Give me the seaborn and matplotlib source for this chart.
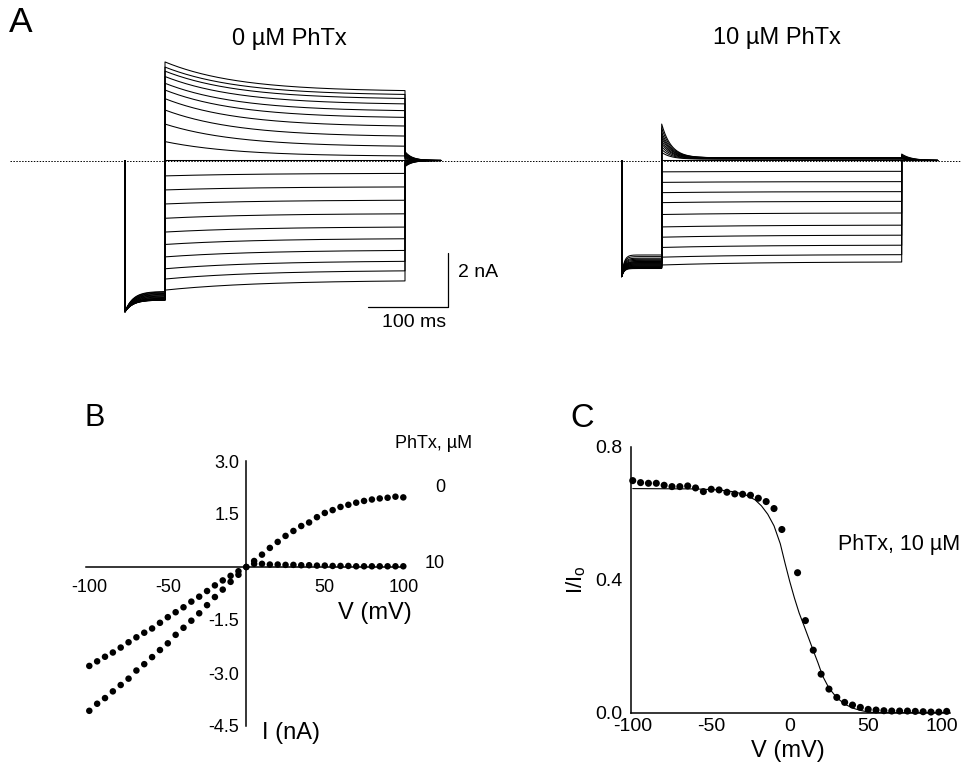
import numpy as np
import pandas as pd
import matplotlib
matplotlib.use("Agg")
import matplotlib.pyplot as plt
import matplotlib.transforms as mtransforms
import seaborn as sns

# ---------------- data ----------------
# Panel A: test-step voltages (mV) and current levels (nA)
step_mv = [-100, -90, -80, -70, -60, -50, -40, -30, -20, -10, 0,
           10, 20, 30, 40, 50, 60, 70, 80, 90, 100]
# 0 uM PhTx
ctl_steady = [-4.43, -4.06, -3.71, -3.31, -2.88, -2.45, -1.96, -1.46, -0.97, -0.47, 0.0,
              0.15, 0.50, 0.87, 1.24, 1.56, 1.81, 2.06, 2.26, 2.41, 2.55]
ctl_transient = [-0.37, -0.33, -0.30, -0.26, -0.23, -0.20, -0.18, -0.15, -0.12, -0.10, 0.0,
                 0.55, 0.85, 1.00, 1.05, 1.05, 1.05, 1.05, 1.05, 1.05, 1.10]
ctl_pre_end = [-4.85, -4.87, -4.90, -4.92, -4.95, -4.97, -5.00, -5.02, -5.05, -5.07, -5.10,
               -5.11, -5.12, -5.13, -5.14, -5.15, -5.15, -5.16, -5.16, -5.17, -5.17]
ctl_pre_peak = -5.6
ctl_tail = [-0.23, -0.21, -0.19, -0.17, -0.15, -0.12, -0.10, -0.07, -0.05, -0.02, 0.0,
            0.03, 0.07, 0.10, 0.14, 0.17, 0.20, 0.23, 0.27, 0.30, 0.33]
# 10 uM PhTx
phtx_steady = [-3.75, -3.48, -3.13, -2.76, -2.39, -1.94, -1.51, -1.15, -0.78, -0.40, 0.0,
               0.05, 0.06, 0.07, 0.08, 0.08, 0.09, 0.09, 0.10, 0.10, 0.10]
phtx_transient = [-0.12, -0.10, -0.09, -0.08, -0.07, -0.06, -0.05, -0.04, -0.03, -0.02, 0.0,
                  0.25, 0.35, 0.45, 0.55, 0.65, 0.75, 0.85, 0.95, 1.10, 1.25]
phtx_pre_end = [-3.95, -3.97, -4.00, -3.98, -3.96, -3.94, -3.92, -3.90, -3.88, -3.86, -3.84,
                -3.82, -3.80, -3.78, -3.76, -3.74, -3.70, -3.66, -3.62, -3.56, -3.50]
phtx_pre_peak = -4.3
phtx_tail = [0.0, 0.0, 0.0, 0.0, 0.0, 0.0, 0.0, 0.0, 0.0, 0.0, 0.0,
             0.05, 0.07, 0.09, 0.10, 0.12, 0.14, 0.16, 0.18, 0.21, 0.24]
# protocol timing (ms)
prepulse_start, test_start, test_end, tail_end = 0, 50, 350, 395

# Panel B: I-V relations
iv_mv = [-100, -95, -90, -85, -80, -75, -70, -65, -60, -55, -50, -45, -40, -35, -30, -25, -20,
         -15, -10, -5, 0, 5, 10, 15, 20, 25, 30, 35, 40, 45, 50, 55, 60, 65, 70, 75, 80,
         85, 90, 95, 100]
iv_0uM = [-4.07, -3.87, -3.71, -3.52, -3.34, -3.16, -2.93, -2.75, -2.55, -2.35, -2.16, -1.92,
          -1.72, -1.52, -1.31, -1.08, -0.85, -0.64, -0.42, -0.22, 0.0, 0.17, 0.35, 0.54, 0.71,
          0.88, 1.02, 1.16, 1.26, 1.41, 1.53, 1.61, 1.70, 1.76, 1.82, 1.87, 1.91, 1.94, 1.96,
          1.99, 1.97]
iv_10uM = [-2.80, -2.67, -2.54, -2.42, -2.28, -2.13, -1.99, -1.86, -1.74, -1.58, -1.42, -1.28,
           -1.14, -0.98, -0.84, -0.68, -0.52, -0.38, -0.25, -0.12, 0.0, 0.09, 0.09, 0.07, 0.07,
           0.06, 0.06, 0.05, 0.05, 0.04, 0.04, 0.03, 0.03, 0.03, 0.02, 0.02, 0.02, 0.02, 0.02,
           0.02, 0.02]

# Panel C: fractional current I/Io at 10 uM PhTx (0 mV omitted)
frac_mv = [-100, -95, -90, -85, -80, -75, -70, -65, -60, -55, -50, -45, -40, -35, -30, -25,
           -20, -15, -10, -5, 5, 10, 15, 20, 25, 30, 35, 40, 45, 50, 55, 60, 65, 70, 75, 80,
           85, 90, 95, 100]
frac_val = [0.698, 0.692, 0.690, 0.690, 0.684, 0.680, 0.680, 0.682, 0.676, 0.665, 0.672,
            0.670, 0.663, 0.658, 0.657, 0.654, 0.645, 0.635, 0.614, 0.551, 0.421, 0.277,
            0.188, 0.116, 0.071, 0.046, 0.031, 0.023, 0.016, 0.010, 0.008, 0.006, 0.005,
            0.005, 0.005, 0.004, 0.003, 0.002, 0.002, 0.004]
fit_mv = [-100, -60, -45, -35, -28, -22, -18, -14, -10, -6, -3, 0, 3, 6, 9, 12, 15, 18, 21,
          25, 30, 35, 40, 45, 50, 55, 100]
fit_val = [0.674, 0.673, 0.670, 0.664, 0.655, 0.640, 0.622, 0.597, 0.562, 0.508, 0.450,
           0.395, 0.345, 0.300, 0.263, 0.225, 0.187, 0.150, 0.110, 0.074, 0.045, 0.026,
           0.014, 0.007, 0.002, 0.0, 0.0]

# ---------------- style ----------------
sns.set_style("white")
plt.rcParams["font.family"] = ["Liberation Sans", "DejaVu Sans"]
plt.rcParams["axes.unicode_minus"] = False
plt.rcParams["mathtext.fontset"] = "custom"
plt.rcParams["mathtext.rm"] = "Liberation Sans"
plt.rcParams["mathtext.it"] = "Liberation Sans"
for key in ["text.color", "axes.labelcolor", "xtick.color", "ytick.color", "axes.edgecolor"]:
    plt.rcParams[key] = "black"

W, H = 961, 777
fig = plt.figure(figsize=(W / 100, H / 100), dpi=100)
fig.patch.set_facecolor("white")


def fx(px):
    return px / W


def fy(py):
    return 1 - py / H


def add_ax(x0, y0, x1, y1):
    return fig.add_axes([fx(x0), fy(y1), fx(x1) - fx(x0), (y1 - y0) / H])


def trace_frame(steady, transient, pre_end, pre_peak, tail, tau_pre, tau_pos, tau_neg, tau_tail):
    frames = []
    t_pre = np.linspace(prepulse_start, test_start, 60)
    t_test = np.linspace(test_start, test_end, 300)
    t_tail = np.linspace(test_end, tail_end, 60)
    for k in range(len(steady)):
        i_pre = pre_end[k] + (pre_peak - pre_end[k]) * np.exp(-(t_pre - prepulse_start) / tau_pre)
        tau = tau_pos if transient[k] > 0 else tau_neg
        i_test = steady[k] + transient[k] * np.exp(-(t_test - test_start) / tau)
        i_tail = tail[k] * np.exp(-(t_tail - test_end) / tau_tail)
        t = np.concatenate([[prepulse_start], t_pre, t_test, t_tail])
        i = np.concatenate([[0.0], i_pre, i_test, i_tail])
        frames.append(pd.DataFrame({"t": t, "I": i, "trace": k}))
    return pd.concat(frames, ignore_index=True)


ylo, yhi = (160.5 - 340) / 27, (160.5 - 50) / 27

# ---------------- Panel A ----------------
axL = add_ax(10, 50, 480, 340)
axR = add_ax(480, 50, 961, 340)
df_ctl = trace_frame(ctl_steady, ctl_transient, ctl_pre_end, ctl_pre_peak, ctl_tail,
                     10, 90, 120, 9)
df_ptx = trace_frame(phtx_steady, phtx_transient, phtx_pre_end, phtx_pre_peak, phtx_tail,
                     3, 12, 120, 12)
for ax, df, xl in [(axL, df_ctl, ((10 - 125) / 0.8, (480 - 125) / 0.8)),
                   (axR, df_ptx, ((480 - 621.7) / 0.8, (961 - 621.7) / 0.8))]:
    ax.axhline(0, color="k", lw=0.7, ls=(0, (1.5, 1.5)), zorder=1)
    sns.lineplot(data=df, x="t", y="I", units="trace", estimator=None, sort=False,
                 color="k", lw=0.75, ax=ax, legend=False, zorder=2)
    ax.set_xlim(*xl)
    ax.set_ylim(ylo, yhi)
    ax.axis("off")

# scale bar (100 ms, 2 nA)
sb_x1, sb_y0 = 403.4, -5.43
axL.plot([sb_x1 - 100, sb_x1, sb_x1], [sb_y0, sb_y0, sb_y0 + 2], color="k", lw=0.9,
         clip_on=False)

fig.text(fx(9), fy(32.3), "A", fontsize=25.5, ha="left", va="baseline")
fig.text(fx(289), fy(45), "0 µM PhTx", fontsize=17, ha="center", va="baseline")
fig.text(fx(777), fy(44), "10 µM PhTx", fontsize=17, ha="center", va="baseline")
fig.text(fx(458), fy(276.7), "2 nA", fontsize=14, ha="left", va="baseline")
fig.text(fx(414), fy(327.3), "100 ms", fontsize=14, ha="center", va="baseline")

# ---------------- Panel B ----------------
axB = add_ax(89.3 - 5 * 1.57, 461, 403.3 + 5 * 1.57, 726)
iv_df = pd.DataFrame({"V": iv_mv * 2, "I": iv_0uM + iv_10uM,
                      "PhTx": ["0"] * len(iv_mv) + ["10"] * len(iv_mv)})
sns.scatterplot(data=iv_df, x="V", y="I", hue="PhTx", palette=["k", "k"], s=22,
                edgecolor="none", legend=False, ax=axB, clip_on=False, zorder=3)
axB.set_xlim(-105, 105)
axB.set_ylim(-4.5, 3.0)
for s in ["top", "right"]:
    axB.spines[s].set_visible(False)
axB.spines["left"].set_position(("data", 0))
axB.spines["bottom"].set_position(("data", 0))
axB.spines["left"].set_bounds(-4.5, 3.0)
axB.spines["bottom"].set_bounds(-102, 100)
for s in ["left", "bottom"]:
    axB.spines[s].set_linewidth(1.1)
    axB.spines[s].set_color("k")
axB.set_xticks([-100, -50, 50, 100])
axB.set_xticklabels(["-100", "-50", "50", "100"])
axB.set_yticks([-4.5, -3.0, -1.5, 1.5, 3.0])
axB.set_yticklabels(["-4.5", "-3.0", "-1.5", "1.5", "3.0"])
axB.tick_params(direction="in", length=4, width=1.1, labelsize=13, colors="k")
axB.tick_params(axis="x", pad=9)
axB.tick_params(axis="y", pad=5)
axB.set_xlabel("")
axB.set_ylabel("")
axB.set_facecolor("none")

fig.text(fx(84.5), fy(425.7), "B", fontsize=22, ha="left", va="baseline")
fig.text(fx(395), fy(448.3), "PhTx, µM", fontsize=13, ha="left", va="baseline")
fig.text(fx(440), fy(491.7), "0", fontsize=13, ha="center", va="baseline")
fig.text(fx(435), fy(568.3), "10", fontsize=13, ha="center", va="baseline")
fig.text(fx(375.3), fy(619), "V (mV)", fontsize=17, ha="center", va="baseline")
fig.text(fx(261.7), fy(739.3), "I (nA)", fontsize=17, ha="left", va="baseline")

# ---------------- Panel C ----------------
axC = add_ax(630.7, 446.7, 950.3, 712.7)
sns.lineplot(x=fit_mv, y=fit_val, color="k", lw=0.8, ax=axC, zorder=2)
sns.scatterplot(x=frac_mv, y=frac_val, color="k", s=26, edgecolor="none", ax=axC,
                clip_on=False, zorder=3)
axC.set_xlim(-101.3, 102.3)
axC.set_ylim(0, 0.8)
for s in ["top", "right"]:
    axC.spines[s].set_visible(False)
for s in ["left", "bottom"]:
    axC.spines[s].set_linewidth(1.1)
    axC.spines[s].set_color("k")
axC.set_xticks([-100, -50, 0, 50, 100])
axC.set_xticklabels(["-100", "-50", "0", "50", "100"])
axC.set_yticks([0.0, 0.4, 0.8])
axC.set_yticklabels(["0.0", "0.4", "0.8"])
axC.tick_params(direction="in", length=4, width=1.1, labelsize=14, colors="k")
axC.tick_params(axis="x", pad=4)
axC.tick_params(axis="y", pad=6)
axC.set_xlabel("")
axC.set_ylabel("")
axC.set_facecolor("none")
# keep the last x tick label inside the figure edge
last = axC.get_xticklabels()[-1]
last.set_transform(last.get_transform()
                   + mtransforms.ScaledTranslation(-0.05, 0, fig.dpi_scale_trans))

fig.text(fx(570), fy(427), "C", fontsize=23.5, ha="left", va="baseline")
fig.text(fx(787.5), fy(757), "V (mV)", fontsize=17, ha="center", va="baseline")
fig.text(fx(576), fy(580), r"I/I$_\mathregular{o}$", fontsize=16, ha="center", va="center",
         rotation=90)
fig.text(fx(838), fy(550), "PhTx, 10 µM", fontsize=15.5, ha="left", va="baseline")

fig.savefig("out.png", dpi=100, facecolor="white")
